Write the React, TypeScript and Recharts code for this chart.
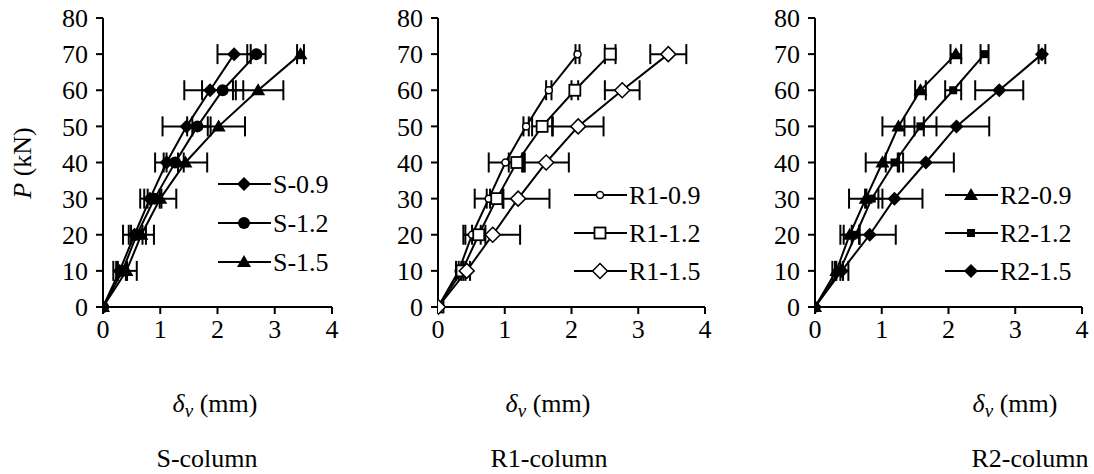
import { ScatterChart, Scatter, XAxis, YAxis, ErrorBar, Legend } from 'recharts'

const FONT = '"Liberation Serif", "Times New Roman", serif'

// applied load levels (kN)
const loads = [0, 10, 20, 30, 40, 50, 60, 70]
const xTicks = [0, 1, 2, 3, 4]
const yTicks = [0, 10, 20, 30, 40, 50, 60, 70, 80]

// S-column displacements (mm) and scatter (+/- mm)
const s09Disp = [0, 0.29, 0.55, 0.82, 1.11, 1.46, 1.87, 2.29]
const s09Err = [0, 0.11, 0.2, 0.17, 0.2, 0.42, 0.45, 0.29]
const s12Disp = [0, 0.34, 0.59, 0.9, 1.26, 1.65, 2.09, 2.68]
const s12Err = [0, 0.08, 0.1, 0.12, 0.15, 0.18, 0.36, 0.16]
const s15Disp = [0, 0.41, 0.67, 1.0, 1.44, 2.02, 2.71, 3.45]
const s15Err = [0, 0.18, 0.22, 0.28, 0.38, 0.46, 0.44, 0.06]

// R1-column
const r1_09Disp = [0, 0.31, 0.51, 0.76, 1.01, 1.32, 1.66, 2.09]
const r1_09Err = [0, 0.04, 0.13, 0.21, 0.25, 0.04, 0.04, 0.03]
const r1_12Disp = [0, 0.36, 0.61, 0.88, 1.18, 1.56, 2.05, 2.58]
const r1_12Err = [0, 0.05, 0.1, 0.1, 0.12, 0.15, 0.05, 0.08]
const r1_15Disp = [0, 0.43, 0.82, 1.2, 1.62, 2.1, 2.76, 3.45]
const r1_15Err = [0, 0.05, 0.41, 0.47, 0.34, 0.38, 0.26, 0.27]

// R2-column
const r2_09Disp = [0, 0.32, 0.52, 0.76, 1.01, 1.25, 1.58, 2.11]
const r2_09Err = [0, 0.06, 0.14, 0.25, 0.25, 0.24, 0.08, 0.08]
const r2_12Disp = [0, 0.37, 0.61, 0.85, 1.19, 1.58, 2.07, 2.54]
const r2_12Err = [0, 0.05, 0.06, 0.1, 0.13, 0.24, 0.12, 0.06]
const r2_15Disp = [0, 0.4, 0.82, 1.19, 1.66, 2.12, 2.76, 3.4]
const r2_15Err = [0, 0.1, 0.39, 0.42, 0.42, 0.49, 0.36, 0.05]

type MarkerKind = 'diamond' | 'circle' | 'triangle' | 'ocircle' | 'osquare' | 'odiamond' | 'square'

interface Series {
  name: string
  disp: number[]
  err: number[]
  marker: MarkerKind
}

const toPoints = (disp: number[], err: number[]) =>
  disp.map((x, i) => ({ x, y: loads[i], ex: err[i] }))

function Marker({ kind, cx, cy }: { kind: MarkerKind; cx: number; cy: number }) {
  switch (kind) {
    case 'diamond':
      return <polygon points={`${cx},${cy - 7} ${cx + 7},${cy} ${cx},${cy + 7} ${cx - 7},${cy}`} fill="#000" />
    case 'circle':
      return <circle cx={cx} cy={cy} r={6} fill="#000" />
    case 'triangle':
      return <polygon points={`${cx},${cy - 7} ${cx + 7},${cy + 5} ${cx - 7},${cy + 5}`} fill="#000" />
    case 'ocircle':
      return <circle cx={cx} cy={cy} r={3.5} fill="#fff" stroke="#000" strokeWidth={1.5} />
    case 'osquare':
      return <rect x={cx - 5.5} y={cy - 5.5} width={11} height={11} fill="#fff" stroke="#000" strokeWidth={1.8} />
    case 'odiamond':
      return (
        <polygon
          points={`${cx},${cy - 7.5} ${cx + 7.5},${cy} ${cx},${cy + 7.5} ${cx - 7.5},${cy}`}
          fill="#fff"
          stroke="#000"
          strokeWidth={1.5}
        />
      )
    default:
      return <rect x={cx - 4} y={cy - 4} width={8} height={8} fill="#000" />
  }
}

function LegendBox({ series, rowGap }: { series: Series[]; rowGap: number }) {
  return (
    <svg width={150} height={130} style={{ overflow: 'visible' }}>
      {series.map((s, i) => {
        const y = 20 + i * rowGap
        return (
          <g key={s.name}>
            <line x1={4} x2={57} y1={y} y2={y} stroke="#000" strokeWidth={2} />
            <Marker kind={s.marker} cx={30} cy={y} />
            <text x={59} y={y} dominantBaseline="central" fontFamily={FONT} fontSize={26} fill="#000">
              {s.name}
            </text>
          </g>
        )
      })}
    </svg>
  )
}

interface PanelProps {
  left: number
  yAxisWidth: number
  series: Series[]
  legendLeft: number
  legendTop: number
  rowGap: number
  titleX: number
  captionX: number
  caption: string
  showYTitle?: boolean
}

const PLOT_W_RIGHT = 8

function Panel({ left, yAxisWidth, series, legendLeft, legendTop, rowGap, titleX, captionX, caption, showYTitle }: PanelProps) {
  const plotWidth = left === 0 ? 229 : 267
  const width = yAxisWidth + plotWidth + PLOT_W_RIGHT
  return (
    <div style={{ position: 'absolute', left, top: 0 }}>
      <ScatterChart width={width} height={474} margin={{ top: 18, right: PLOT_W_RIGHT, bottom: 127, left: 0 }}>
        <XAxis
          type="number"
          dataKey="x"
          domain={[0, 4]}
          ticks={xTicks}
          height={40}
          tickSize={7}
          tickMargin={6}
          axisLine={{ stroke: '#000', strokeWidth: 2 }}
          tickLine={{ stroke: '#000', strokeWidth: 2 }}
          tick={{ fill: '#000', fontSize: 26, fontFamily: FONT }}
          allowDataOverflow
          label={() => (
            <g fontFamily={FONT} fill="#000">
              <text x={titleX} y={403} textAnchor="middle" dominantBaseline="central" fontSize={26}>
                <tspan fontStyle="italic">δ</tspan>
                <tspan fontStyle="italic" fontSize={19} dy={7}>v</tspan>
                <tspan dy={-7}> (mm)</tspan>
              </text>
              <text x={captionX} y={458} textAnchor="middle" dominantBaseline="central" fontSize={26}>
                {caption}
              </text>
            </g>
          )}
        />
        <YAxis
          type="number"
          dataKey="y"
          domain={[0, 80]}
          ticks={yTicks}
          width={yAxisWidth}
          tickSize={7}
          tickMargin={8}
          axisLine={{ stroke: '#000', strokeWidth: 2 }}
          tickLine={{ stroke: '#000', strokeWidth: 2 }}
          tick={{ fill: '#000', fontSize: 26, fontFamily: FONT }}
          label={
            showYTitle
              ? () => (
                  <text
                    x={22}
                    y={163}
                    transform="rotate(-90 22 163)"
                    textAnchor="middle"
                    dominantBaseline="central"
                    fontFamily={FONT}
                    fontSize={26}
                    fill="#000"
                  >
                    <tspan fontStyle="italic">P</tspan>
                    <tspan> (kN)</tspan>
                  </text>
                )
              : undefined
          }
        />
        <Legend
          layout="vertical"
          align="center"
          verticalAlign="middle"
          wrapperStyle={{ left: legendLeft, top: legendTop, width: 150, height: 130 }}
          content={() => <LegendBox series={series} rowGap={rowGap} />}
        />
        {series.map((s) => (
          <Scatter
            key={s.name}
            name={s.name}
            data={toPoints(s.disp, s.err)}
            line={{ stroke: '#000', strokeWidth: 2 }}
            lineType="joint"
            shape={(p: any) => <Marker kind={s.marker} cx={p.cx} cy={p.cy} />}
            isAnimationActive={false}
          >
            <ErrorBar dataKey="ex" direction="x" width={10} stroke="#000" strokeWidth={2} isAnimationActive={false} />
          </Scatter>
        ))}
      </ScatterChart>
    </div>
  )
}

const sSeries: Series[] = [
  { name: 'S-0.9', disp: s09Disp, err: s09Err, marker: 'diamond' },
  { name: 'S-1.2', disp: s12Disp, err: s12Err, marker: 'circle' },
  { name: 'S-1.5', disp: s15Disp, err: s15Err, marker: 'triangle' },
]
const r1Series: Series[] = [
  { name: 'R1-0.9', disp: r1_09Disp, err: r1_09Err, marker: 'ocircle' },
  { name: 'R1-1.2', disp: r1_12Disp, err: r1_12Err, marker: 'osquare' },
  { name: 'R1-1.5', disp: r1_15Disp, err: r1_15Err, marker: 'odiamond' },
]
const r2Series: Series[] = [
  { name: 'R2-0.9', disp: r2_09Disp, err: r2_09Err, marker: 'triangle' },
  { name: 'R2-1.2', disp: r2_12Disp, err: r2_12Err, marker: 'square' },
  { name: 'R2-1.5', disp: r2_15Disp, err: r2_15Err, marker: 'diamond' },
]

export default function App() {
  return (
    <div style={{ position: 'absolute', left: 0, top: 0, width: 1094, height: 474, background: '#fff', overflow: 'hidden' }}>
      <Panel
        left={0}
        yAxisWidth={103}
        series={sSeries}
        legendLeft={214}
        legendTop={164}
        rowGap={39}
        titleX={215}
        captionX={207}
        caption="S-column"
        showYTitle
      />
      <Panel
        left={370}
        yAxisWidth={68}
        series={r1Series}
        legendLeft={200}
        legendTop={175}
        rowGap={38}
        titleX={178}
        captionX={179}
        caption="R1-column"
      />
      <Panel
        left={740}
        yAxisWidth={75}
        series={r2Series}
        legendLeft={201}
        legendTop={175}
        rowGap={38}
        titleX={275}
        captionX={290}
        caption="R2-column"
      />
    </div>
  )
}
